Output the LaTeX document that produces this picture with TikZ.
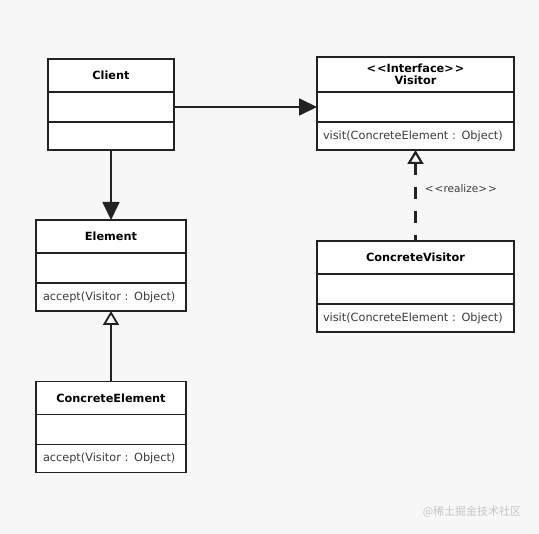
\documentclass[tikz,border=0pt]{standalone}
\usepackage{fontspec}
\setmainfont{DejaVu Sans}
\newfontfamily\cjkfont{Noto Sans CJK SC}
\usetikzlibrary{arrows.meta,positioning}
\definecolor{umlline}{RGB}{34,34,34}
\definecolor{umltext}{RGB}{60,60,60}
\definecolor{pagebg}{RGB}{247,247,247}

\begin{document}
\begin{tikzpicture}[x=1pt, y=-1pt,
    ctitle/.style={draw=umlline, line width=1.8pt, fill=white, outer sep=0pt, inner sep=0pt, minimum height=33pt, align=center, font=\fontsize{11.3}{14}\selectfont\bfseries},
    cpart/.style={draw=umlline, line width=1.8pt, fill=white, outer sep=0pt, inner sep=0pt, minimum height=30pt, font=\fontsize{11.3}{13}\selectfont, text=umltext},
    cops/.style={cpart, minimum height=28pt, align=left},
    assoc/.style={-{Triangle[length=18pt,width=17pt]}, line width=1.8pt, umlline},
    inherit/.style={-{Triangle[open,length=14pt,width=16pt]}, line width=1.8pt, umlline},
]
    \fill[pagebg] (0,0) rectangle (539,534);
    \useasboundingbox (0,0) rectangle (539,534);

    % Client
    \node[ctitle, minimum width=126pt] (client) at (111,75.5) {Client};
    \node[cpart, minimum width=126pt, below=0pt of client] (clientattr) {};
    \node[cops, minimum width=126pt, below=0pt of clientattr] (clientops) {};

    % Visitor
    \node[ctitle, minimum width=197pt, minimum height=35pt] (visitor) at (415.5,74.5) {<\kern1pt<Interface>\kern1pt>\\[-2pt]Visitor};
    \node[cpart, minimum width=197pt, below=0pt of visitor] (visitorattr) {};
    \node[cops, minimum width=197pt, text width=185pt, below=0pt of visitorattr] (visitorops) {visit(ConcreteElement : Object)};

    % Element
    \node[ctitle, minimum width=150pt] (elem) at (111,236.5) {Element};
    \node[cpart, minimum width=150pt, below=0pt of elem] (elemattr) {};
    \node[cops, minimum width=150pt, text width=136pt, below=0pt of elemattr] (elemops) {accept(Visitor : Object)};

    % ConcreteVisitor
    \node[ctitle, minimum width=197pt] (cvisitor) at (415.5,257.5) {ConcreteVisitor};
    \node[cpart, minimum width=197pt, below=0pt of cvisitor] (cvisitorattr) {};
    \node[cops, minimum width=197pt, text width=185pt, below=0pt of cvisitorattr] (cvisitorops) {visit(ConcreteElement : Object)};

    % ConcreteElement
    \node[ctitle, minimum width=150pt] (celem) at (111,398) {ConcreteElement};
    \node[cpart, minimum width=150pt, below=0pt of celem] (celemattr) {};
    \node[cops, minimum width=150pt, text width=136pt, below=0pt of celemattr] (celemops) {accept(Visitor : Object)};

    % Arrows
    \draw[assoc] (clientattr) -- (visitorattr);
    \draw[assoc] (clientops.south) -- (elem.north);
    \draw[inherit] (celem.north) -- (elemops.south);
    \draw[inherit, line width=2.2pt, dash pattern=on 12pt off 12pt, dash phase=6pt] (cvisitor.north) -- node[pos=0.58, right=5pt, font=\fontsize{10.5}{12}\selectfont, text=umltext] (realize) {<\kern1pt<realize>\kern1pt>} (visitorops.south);

    % Watermark
    \node[font=\cjkfont\fontsize{11}{13}\selectfont, text=gray!45] (mark) at (472,512) {@稀土掘金技术社区};
\end{tikzpicture}
\end{document}
